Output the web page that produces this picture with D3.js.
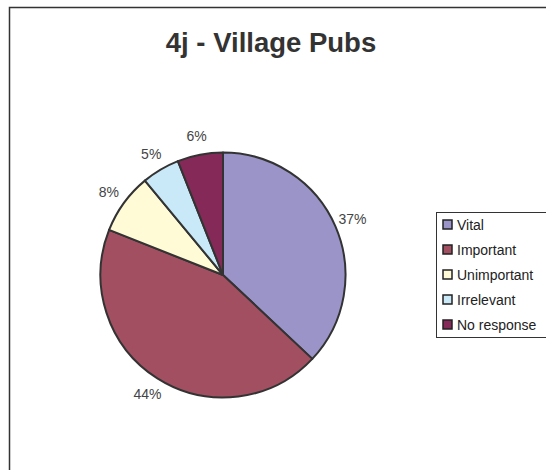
<!DOCTYPE html>
<html>
<head>
<meta charset="utf-8">
<script src="https://cdn.jsdelivr.net/npm/d3@7"></script>
<style>
  body { margin: 0; background: #fff; }
  text { font-family: "Liberation Sans", Arial, sans-serif; }
</style>
</head>
<body>
<script>
// chart data
var categories = ["Vital", "Important", "Unimportant", "Irrelevant", "No response"];
var shares = [37, 44, 8, 5, 6];
var colours = ["#9b94c9", "#a34f62", "#fffbd6", "#c9e9f8", "#852a58"];

var width = 546, height = 470;

var svg = d3.select("body").append("svg")
    .attr("width", width)
    .attr("height", height);

svg.append("rect")
    .attr("width", width).attr("height", height)
    .attr("fill", "#fff");

// outer chart frame (runs off the right and bottom)
svg.append("rect")
    .attr("x", 9.5).attr("y", 7.5)
    .attr("width", 600).attr("height", 500)
    .attr("fill", "none")
    .attr("stroke", "#333")
    .attr("stroke-width", 1.5);

svg.append("text")
    .attr("x", 271).attr("y", 52)
    .attr("text-anchor", "middle")
    .style("font-size", "27.5px")
    .style("font-weight", "bold")
    .attr("fill", "#333")
    .text("4j - Village Pubs");

var data = categories.map(function(c, i) { return { name: c, value: shares[i] }; });

var pie = d3.pie().sort(null).value(function(d) { return d.value; });
var r = 122.5;
var arc = d3.arc().innerRadius(0).outerRadius(r);
var labelArc = d3.arc().innerRadius(141).outerRadius(141);

var g = svg.append("g").attr("transform", "translate(223,275)");

g.selectAll("path")
    .data(pie(data))
    .enter().append("path")
    .attr("d", arc)
    .attr("fill", function(d, i) { return colours[i]; })
    .attr("stroke", "#333")
    .attr("stroke-width", 2)
    .attr("stroke-linejoin", "round");

g.selectAll("text.lbl")
    .data(pie(data))
    .enter().append("text")
    .attr("class", "lbl")
    .attr("transform", function(d) { return "translate(" + labelArc.centroid(d) + ")"; })
    .attr("text-anchor", "middle")
    .attr("dy", "0.35em")
    .style("font-size", "14px")
    .attr("fill", "#444")
    .text(function(d) { return d.data.value + "%"; });

// legend
var legend = svg.append("g").attr("transform", "translate(436,212)");
legend.append("rect")
    .attr("x", 0.5).attr("y", 0.5)
    .attr("width", 140).attr("height", 125)
    .attr("fill", "#fff")
    .attr("stroke", "#333")
    .attr("stroke-width", 1);

var item = legend.selectAll("g.item")
    .data(data)
    .enter().append("g")
    .attr("class", "item")
    .attr("transform", function(d, i) { return "translate(7," + (8 + i * 25) + ")"; });

item.append("rect")
    .attr("width", 9).attr("height", 9)
    .attr("fill", function(d, i) { return colours[i]; })
    .attr("stroke", "#222")
    .attr("stroke-width", 1.5);

item.append("text")
    .attr("x", 14).attr("y", 9.5)
    .style("font-size", "14px")
    .attr("fill", "#222")
    .text(function(d) { return d.name; });
</script>
</body>
</html>
